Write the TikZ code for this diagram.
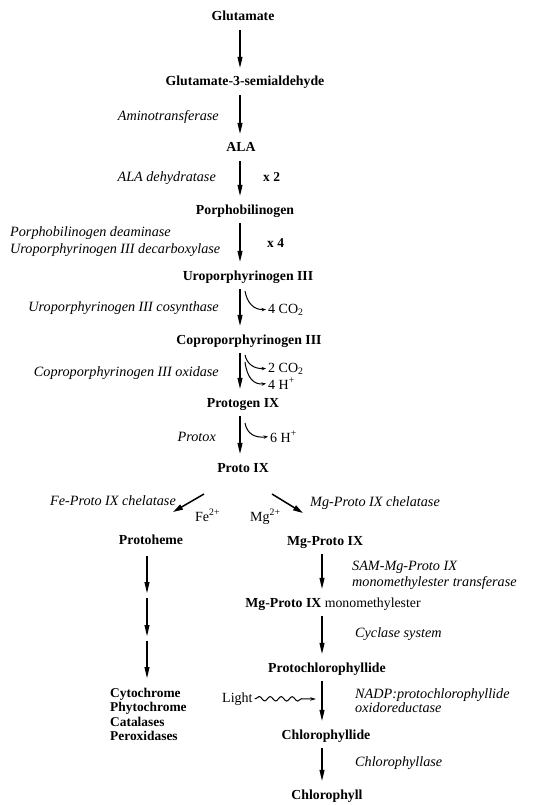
\documentclass[tikz,border=0pt]{standalone}
\usepackage{fontspec}
\setmainfont{Liberation Serif}
\usetikzlibrary{arrows.meta,decorations.pathmorphing}
\begin{document}
\begin{tikzpicture}[x=1pt,y=-1pt,
  cpd/.style={font=\fontsize{13.8}{15}\selectfont\bfseries, inner sep=0pt, text height=9pt, text depth=3pt, anchor=base},
  enz/.style={font=\fontsize{14.2}{15}\selectfont\itshape, inner sep=0pt, anchor=base east},
  enzr/.style={font=\fontsize{14.2}{15}\selectfont\itshape, inner sep=0pt, anchor=base west},
  sml/.style={font=\fontsize{14}{15}\selectfont, inner sep=0pt, anchor=base west},
  smb/.style={font=\fontsize{13.5}{15}\selectfont\bfseries, inner sep=0pt, anchor=base west},
  prod/.style={font=\fontsize{13.4}{15}\selectfont\bfseries, inner sep=0pt, anchor=base west},
  arr/.style={line width=1.1pt, -{Triangle[length=11pt,width=5pt]}, shorten <=6pt, shorten >=9pt},
  arrp/.style={line width=1.1pt, -{Triangle[length=11pt,width=5pt]}},
  arrb/.style={line width=1.5pt, -{Triangle[length=10pt,width=5.5pt]}},
  side/.style={line width=1pt, -{Stealth[length=4.5pt,width=3.5pt]}},
  wav/.style={line width=1pt, -{Stealth[length=6pt,width=3.5pt]}, decorate,
    decoration={snake, amplitude=2.2pt, segment length=11pt, pre length=1pt, post length=12pt}}
]
\useasboundingbox (0,0) rectangle (534,805);
\coordinate (mc) at (240,0);
\coordinate (rc) at (322,0);

% main compounds
\node[cpd] (glu) at (243,21) {Glutamate};
\node[cpd] (gsa) at (245,86) {Glutamate-3-semialdehyde};
\node[cpd] (ala) at (241,152) {ALA};
\node[cpd] (pbg) at (245,214) {Porphobilinogen};
\node[cpd] (uro) at (248,280) {Uroporphyrinogen III};
\node[cpd] (copro) at (249,344) {Coproporphyrinogen III};
\node[cpd] (protogen) at (243,407) {Protogen IX};
\node[cpd] (proto) at (243,472) {Proto IX};
\node[cpd] (heme) at (151,544) {Protoheme};
\node[cpd] (mgp) at (325,545) {Mg-Proto IX};
\node[cpd] (mme) at (333,607) {Mg-Proto IX \mdseries monomethylester};
\node[cpd] (pchl) at (327,672) {Protochlorophyllide};
\node[cpd] (chlide) at (326,739) {Chlorophyllide};
\node[cpd] (chl) at (327,799) {Chlorophyll};

% main arrows
\draw[arr] (mc |- glu.south) -- (mc |- gsa.north);
\draw[arr] (mc |- gsa.south) -- (mc |- ala.north);
\draw[arr] (mc |- ala.south) -- (mc |- pbg.north);
\draw[arr] (mc |- pbg.south) -- (mc |- uro.north);
\draw[arr] (mc |- uro.south) -- (mc |- copro.north);
\draw[arr] (mc |- copro.south) -- (mc |- protogen.north);
\draw[arr] (mc |- protogen.south) -- (mc |- proto.north);
\draw[arr] (rc |- mgp.south) -- (rc |- mme.north);
\draw[arr] (rc |- mme.south) -- (rc |- pchl.north);
\draw[arr] (rc |- pchl.south) -- (rc |- chlide.north);
\draw[arr] (rc |- chlide.south) -- (rc |- chl.north);

% enzymes
\node[enz] (e1) at (219,121) {Aminotransferase};
\node[enz] (e2) at (216,182) {ALA dehydratase};
\node[enzr] (e3a) at (10,236) {Porphobilinogen deaminase};
\node[enzr] (e3b) at (10,253) {Uroporphyrinogen III decarboxylase};
\node[enz] (e4) at (219,311) {Uroporphyrinogen III cosynthase};
\node[enz] (e5) at (219,376) {Coproporphyrinogen III oxidase};
\node[enz] (e6) at (216,441) {Protox};
\node[enz] (e7) at (176,505) {Fe-Proto IX chelatase};
\node[enzr] (e8) at (310,506) {Mg-Proto IX chelatase};
\node[enzr] (e9a) at (352,570) {SAM-Mg-Proto IX};
\node[enzr] (e9b) at (352,586) {monomethylester transferase};
\node[enzr] (e10) at (355,637) {Cyclase system};
\node[enzr] (e11a) at (355,698) {NADP:protochlorophyllide};
\node[enzr] (e11b) at (355,712) {oxidoreductase};
\node[enzr] (e12) at (355,766) {Chlorophyllase};

% stoichiometry and by-products
\node[smb] (x2) at (263,182) {x 2};
\node[smb] (x4) at (267,247) {x 4};
\node[sml] (co1) at (268,313) {4 CO\textsubscript{2}};
\node[sml] (co2) at (268,372) {2 CO\textsubscript{2}};
\node[sml] (h4) at (268,389) {4 H\textsuperscript{+}};
\node[sml] (h6) at (270,442) {6 H\textsuperscript{+}};
\node[sml] (fe) at (195,521) {Fe\textsuperscript{2+}};
\node[sml] (mg) at (250,521) {Mg\textsuperscript{2+}};
\node[sml] (light) at (222,702) {Light};

% side arrows
\coordinate (s1) at (245,291);
\coordinate (s2) at (245,355);
\coordinate (s3) at (245,362);
\coordinate (s4) at (245,423);
\draw[side] (s1) .. controls (247,303) and (254,310) .. ([xshift=-2pt]co1.west);
\draw[side] (s2) .. controls (247,364) and (254,369) .. ([xshift=-2pt]co2.west);
\draw[side] (s3) .. controls (247,378) and (254,385) .. ([xshift=-2pt]h4.west);
\draw[side] (s4) .. controls (247,434) and (255,438) .. ([xshift=-2pt]h6.west);

% branch arrows
\coordinate (b1s) at (204,494);
\coordinate (b1e) at (173,512);
\coordinate (b2s) at (272,494);
\coordinate (b2e) at (303,513);
\draw[arrb] (b1s) -- (b1e);
\draw[arrb] (b2s) -- (b2e);

% heme branch
\coordinate (l1) at (147,556);
\coordinate (l2) at (147,593);
\coordinate (l3) at (147,598);
\coordinate (l4) at (147,636);
\coordinate (l5) at (147,641);
\coordinate (l6) at (147,678);
\draw[arrp] (l1) -- (l2);
\draw[arrp] (l3) -- (l4);
\draw[arrp] (l5) -- (l6);
\node[prod] (p1) at (110,697) {Cytochrome};
\node[prod] (p2) at (110,711) {Phytochrome};
\node[prod] (p3) at (110,726) {Catalases};
\node[prod] (p4) at (110,740) {Peroxidases};

% light
\coordinate (lend) at (316,699);
\draw[wav] ([xshift=2pt]light.east) -- (lend);
\end{tikzpicture}
\end{document}
